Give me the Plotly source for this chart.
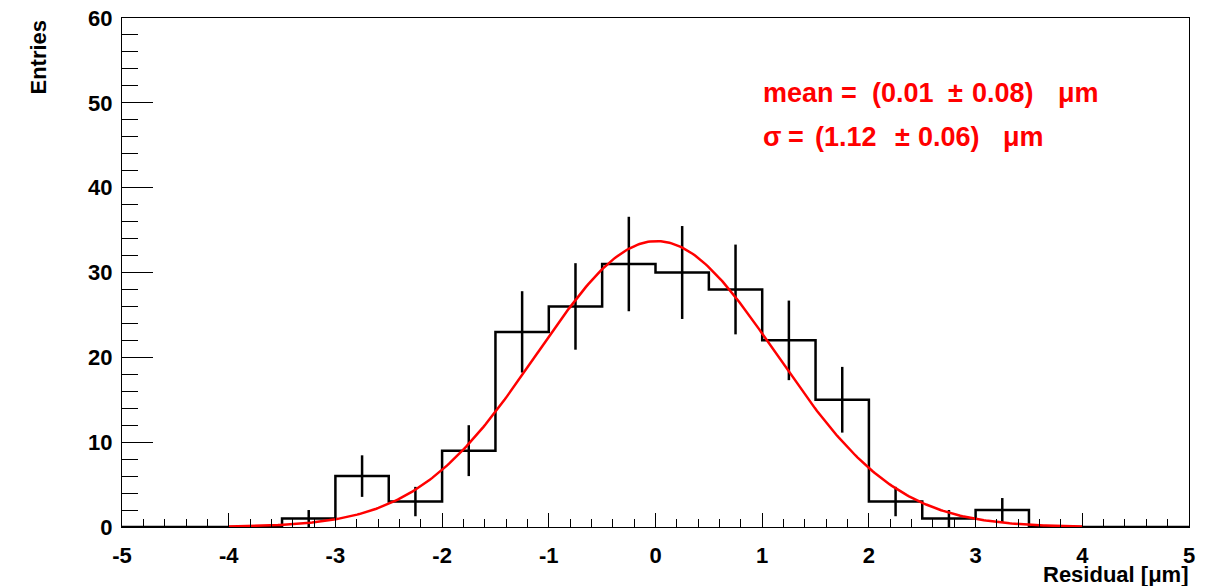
import numpy as np
import plotly.graph_objects as go

# ---- data ----
bin_edges = [-5.0, -4.5, -4.0, -3.5, -3.0, -2.5, -2.0, -1.5, -1.0, -0.5, 0.0,
             0.5, 1.0, 1.5, 2.0, 2.5, 3.0, 3.5, 4.0, 4.5, 5.0]
counts = [0, 0, 0, 1, 6, 3, 9, 23, 26, 31, 30, 28, 22, 15, 3, 1, 2, 0, 0, 0]
fit_mean = 0.01
fit_sigma = 1.12
fit_amp = 33.7
fit_range = [-4.0, 4.0]
x_ticks = [-5, -4, -3, -2, -1, 0, 1, 2, 3, 4, 5]
x_ticktext = ["-5", "-4", "-3", "-2", "-1", "0", "1", "2", "3", "4", "5"]
y_ticks = [0, 10, 20, 30, 40, 50, 60]
y_ticktext = ["0", "10", "20", "30", "40", "50", "60"]
mean_tokens = ["mean", "=", "(0.01", "\u00b1", "0.08)", "\u03bcm"]
sigma_tokens = ["\u03c3", "=", "(1.12", "\u00b1", "0.06)", "\u03bcm"]

# layout of the fit-result text (pixel positions of each token, ROOT TLatex spacing)
mean_token_px = [762, 840, 871, 947, 971, 1057]
sigma_token_px = [762, 787, 814, 894, 917, 1002]
mean_line_px = 93
sigma_line_px = 137

FONT = "Liberation Sans, Arial, Helvetica, sans-serif"
W, H = 1211, 586
ML, MR, MT, MB = 122, 22, 18, 59
PW, PH = W - ML - MR, H - MT - MB

edges = np.array(bin_edges)
cnt = np.array(counts, dtype=float)
centers = 0.5 * (edges[:-1] + edges[1:])

fig = go.Figure()

# histogram outline (step)
step_x = list(edges)
step_y = list(cnt) + [cnt[-1]]
fig.add_trace(go.Scatter(x=step_x, y=step_y, mode="lines",
                         line=dict(shape="hv", color="black", width=2.5),
                         hoverinfo="skip", showlegend=False))

# error bars (only non-empty bins)
mask = cnt > 0
fig.add_trace(go.Scatter(x=centers[mask], y=cnt[mask], mode="markers",
                         marker=dict(size=1, color="black", opacity=0),
                         error_y=dict(type="data", array=np.sqrt(cnt[mask]),
                                      visible=True, width=0, thickness=2.5,
                                      color="black"),
                         showlegend=False))

# gaussian fit curve
xf = np.linspace(fit_range[0], fit_range[1], 400)
yf = fit_amp * np.exp(-0.5 * ((xf - fit_mean) / fit_sigma) ** 2)
fig.add_trace(go.Scatter(x=xf, y=yf, mode="lines",
                         line=dict(color="#ff0000", width=2.5),
                         showlegend=False))

fig.update_layout(
    width=W, height=H,
    margin=dict(l=ML, r=MR, t=MT, b=MB, autoexpand=False),
    plot_bgcolor="white", paper_bgcolor="white",
    font=dict(family=FONT, size=22, color="black", weight="bold"),
    showlegend=False,
)

fig.update_xaxes(
    range=[-5, 5], showgrid=False, zeroline=False, automargin=False,
    showline=True, linecolor="black", linewidth=1.2, mirror=True,
    ticks="inside", ticklen=14, tickwidth=1, tickcolor="black",
    tickvals=x_ticks, ticktext=x_ticktext,
    tickfont=dict(family=FONT, size=22, weight="bold"),
    ticklabelstandoff=8,
    minor=dict(dtick=0.2, tick0=0, ticks="inside", ticklen=8,
               tickwidth=1, tickcolor="black", showgrid=False),
)
fig.update_yaxes(
    range=[0, 60], showgrid=False, zeroline=False, automargin=False,
    showline=True, linecolor="black", linewidth=1.2, mirror=True,
    ticks="inside", ticklen=31, tickwidth=1, tickcolor="black",
    tickvals=y_ticks, ticktext=y_ticktext,
    tickfont=dict(family=FONT, size=22, weight="bold"),
    ticklabelstandoff=4,
    minor=dict(dtick=2, tick0=0, ticks="inside", ticklen=16,
               tickwidth=1, tickcolor="black", showgrid=False),
)

# axis titles (ROOT style, aligned to axis ends)
fig.add_annotation(text="Residual [\u03bcm]", xref="paper", yref="paper",
                   x=1.0, y=0, xanchor="right", yanchor="middle", yshift=-47,
                   showarrow=False, borderpad=0,
                   font=dict(family=FONT, size=22, weight="bold", color="black"))
fig.add_annotation(text="Entries", xref="paper", yref="paper",
                   x=0, y=1.0, xanchor="center", yanchor="top",
                   xshift=-84, textangle=-90, showarrow=False,
                   font=dict(family=FONT, size=22, weight="bold", color="black"))


# fit results, token by token
def add_line(tokens, xs, ypx):
    for tok, xp in zip(tokens, xs):
        fig.add_annotation(text=tok, xref="paper", yref="paper",
                           x=(xp - ML) / PW, y=1 - (ypx - MT) / PH,
                           xanchor="left", yanchor="middle",
                           showarrow=False, borderpad=0,
                           font=dict(family=FONT, size=27, weight="bold",
                                     color="#ff0000"))


add_line(mean_tokens, mean_token_px, mean_line_px)
add_line(sigma_tokens, sigma_token_px, sigma_line_px)

fig.write_html("out.html")
